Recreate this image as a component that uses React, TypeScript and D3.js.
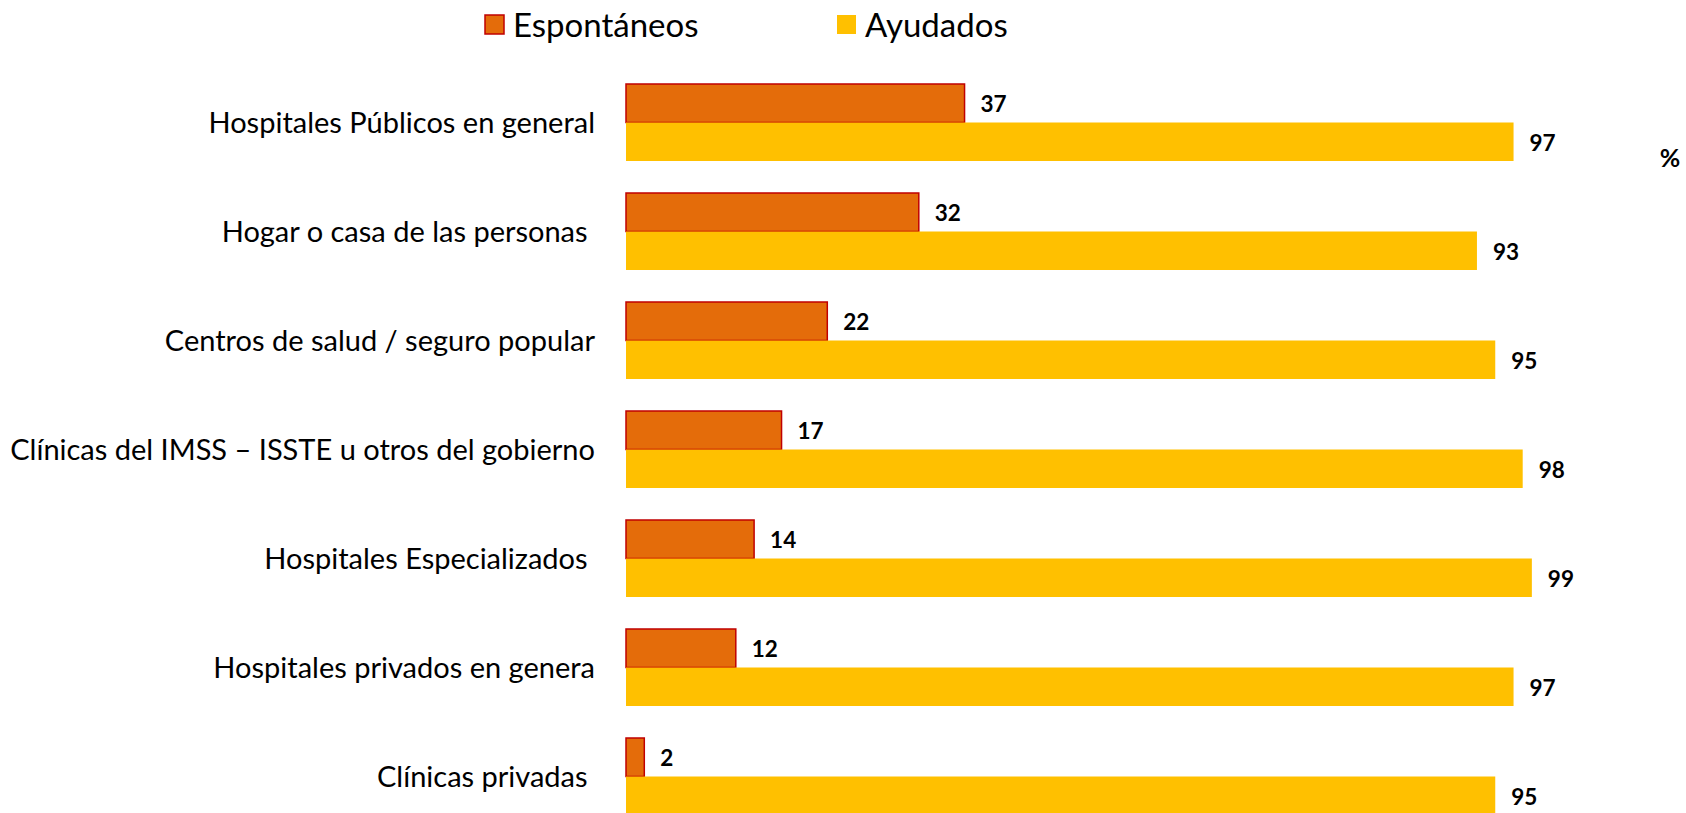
import React, { useRef, useEffect } from "react";
import * as d3 from "d3";

// algunas etiquetas del original llevan un espacio final
const categories = [
  "Hospitales Públicos en general",
  "Hogar o casa de las personas ",
  "Centros de salud / seguro popular",
  "Clínicas del IMSS – ISSTE u otros del gobierno",
  "Hospitales Especializados ",
  "Hospitales privados en genera",
  "Clínicas privadas ",
];
const series = ["Espontáneos", "Ayudados"];
const espontaneos = [37, 32, 22, 17, 14, 12, 2];
const ayudados = [97, 93, 95, 98, 99, 97, 95];

const colors: Record<string, string> = { "Espontáneos": "#E46C0A", "Ayudados": "#FFC000" };
const strokes: Record<string, string | null> = { "Espontáneos": "#C00000", "Ayudados": null };
const font = "Lato, 'Open Sans', sans-serif";

const W = 1686;
const H = 813;

const App: React.FC = () => {
  const ref = useRef<SVGSVGElement | null>(null);

  useEffect(() => {
    if (!ref.current) return;
    const svg = d3.select(ref.current);
    svg.selectAll("*").remove();

    const rows = categories.map((c, i) => ({ cat: c, values: [espontaneos[i], ayudados[i]] }));

    const x = d3.scaleLinear().domain([0, 100]).range([626, 1541]);
    const y = d3.scaleBand().domain(categories).range([84, 815]).paddingInner(0.2936).paddingOuter(0);
    const ySub = d3.scaleBand().domain(series).range([0, y.bandwidth()]);

    // etiquetas de categorías
    svg.append("g")
      .selectAll("text")
      .data(categories)
      .join("text")
      .attr("x", 595)
      .attr("y", (d) => y(d)! + y.bandwidth() / 2)
      .attr("dy", "0.35em")
      .attr("text-anchor", "end")
      .attr("font-family", font)
      .attr("font-size", 29)
      .attr("fill", "#000")
      .style("white-space", "pre")
      .text((d) => d);

    const groups = svg.append("g")
      .selectAll("g")
      .data(rows)
      .join("g")
      .attr("transform", (d) => `translate(0,${y(d.cat)})`);

    groups.selectAll("rect")
      .data((d) => d.values.map((v, j) => ({ key: series[j], v })))
      .join("rect")
      .attr("x", x(0))
      .attr("y", (d) => ySub(d.key)!)
      .attr("width", (d) => x(d.v) - x(0))
      .attr("height", ySub.bandwidth())
      .attr("fill", (d) => colors[d.key])
      .attr("stroke", (d) => strokes[d.key])
      .attr("stroke-width", 1.5);

    groups.selectAll("text")
      .data((d) => d.values.map((v, j) => ({ key: series[j], v })))
      .join("text")
      .attr("x", (d) => x(d.v) + 16)
      .attr("y", (d) => ySub(d.key)! + ySub.bandwidth() / 2 + 1)
      .attr("dy", "0.35em")
      .attr("font-family", font)
      .attr("font-weight", "bold")
      .attr("font-size", 22.5)
      .text((d) => d.v);

    // leyenda
    const legendX = [484, 836];
    const legend = svg.append("g")
      .selectAll("g")
      .data(series)
      .join("g")
      .attr("transform", (d, i) => `translate(${legendX[i]},14)`);
    legend.append("rect")
      .attr("x", 1)
      .attr("y", 1)
      .attr("width", 19)
      .attr("height", 19)
      .attr("fill", (d) => colors[d])
      .attr("stroke", (d) => strokes[d])
      .attr("stroke-width", 1.5);
    legend.append("text")
      .attr("x", 29)
      .attr("y", 11)
      .attr("dy", "0.35em")
      .attr("font-family", font)
      .attr("font-size", 33)
      .text((d) => d);

    svg.append("text")
      .attr("x", 1670)
      .attr("y", 158)
      .attr("dy", "0.35em")
      .attr("text-anchor", "middle")
      .attr("font-family", font)
      .attr("font-weight", "bold")
      .attr("font-size", 25)
      .text("%");
  }, []);

  return (
    <svg
      ref={ref}
      width={W}
      height={H}
      style={{ position: "absolute", left: 0, top: 0, background: "#fff" }}
    />
  );
};

export default App;
